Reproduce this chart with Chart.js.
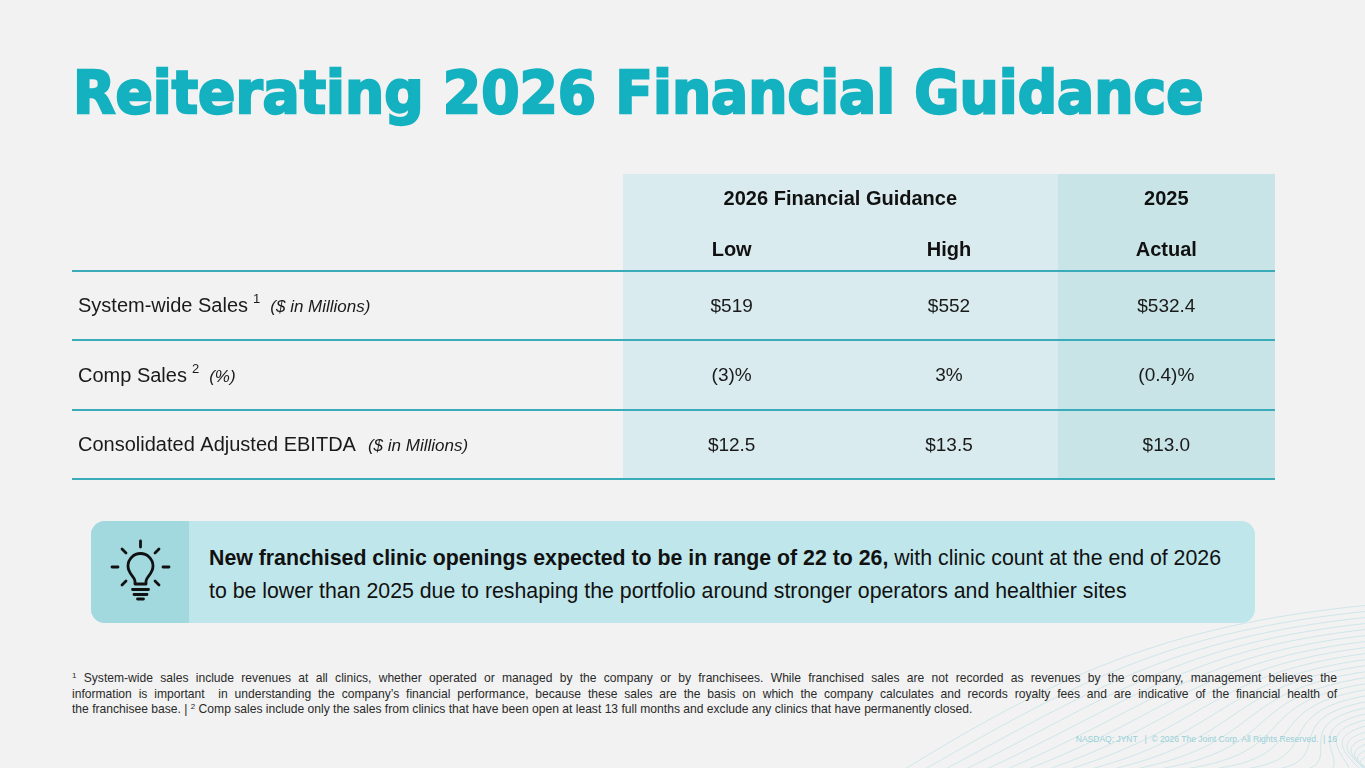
<!DOCTYPE html>
<html>
<head>
<meta charset="utf-8">
<title>Reiterating 2026 Financial Guidance</title>
<script src="https://cdn.jsdelivr.net/npm/chart.js@4.4.1/dist/chart.umd.min.js"></script>
<style>
  html, body { margin: 0; padding: 0; }
  body {
    width: 1365px; height: 768px; position: relative; overflow: hidden;
    background: #f2f2f2; color: #1a1a1a;
    font-family: "Liberation Sans", Arial, sans-serif;
  }
  #waves { position: absolute; left: 0; top: 0; }
  #title {
    position: absolute; left: 73px; top: 63px; white-space: nowrap;
    font-family: "Arial Black", "DejaVu Sans", sans-serif;
    font-weight: bold; font-size: 59px; line-height: 59px; color: #14b1c0;
    -webkit-text-stroke: 2.4px #14b1c0; transform-origin: left center; width: max-content;
  }
  #tableBox { position: absolute; left: 72px; top: 172px; width: 1203px; height: 310px; }
  #callout {
    position: absolute; left: 91px; top: 521px; width: 1164px; height: 102px;
    background: #bfe6ea; border-radius: 14px;
  }
  #callout .icon {
    position: absolute; left: 0; top: 0; width: 98px; height: 102px;
    background: #a2d9df; border-radius: 14px 0 0 14px;
  }
  #callout .msg {
    position: absolute; left: 118px; top: 21px; white-space: nowrap;
    font-size: 21.3px; line-height: 33px; color: #111;
  }
  #notes {
    position: absolute; left: 72px; top: 671px; font-size: 12.3px; line-height: 15.5px; color: #2a2a2a;
  }
  #notes div { white-space: nowrap; width: max-content; }
  #notes div.full { width: 1265px; text-align: justify; text-align-last: justify; white-space: normal; }
  #notes sup { font-size: 8px; vertical-align: 4px; line-height: 0; }
  #footer {
    position: absolute; right: 28px; top: 734px; white-space: nowrap;
    font-size: 8.5px; color: #95d0d7;
  }
</style>
</head>
<body>
<svg id="waves" width="1365" height="768"></svg>

<div id="title">Reiterating 2026 Financial Guidance</div>

<div id="tableBox"><canvas id="myChart"></canvas></div>

<div id="callout">
  <div class="icon">
    <svg width="98" height="102" viewBox="0 0 98 102" fill="none" stroke="#111" stroke-width="2.8" stroke-linecap="round" stroke-linejoin="round">
      <path d="M44,63 L44,60 C44,56 37,53 37,45 A12.5,12.5 0 1 1 62,45 C62,53 55,56 55,60 L55,63 Z"/>
      <path d="M41.5,68.5 H57.5 M43,73.5 H56 M46.5,78 H52.5"/>
      <path d="M49.5,20 V26 M21,46 H27 M72,46 H78 M31,28 L35,32 M68,28 L64,32 M31,64 L35,60 M68,64 L64,60"/>
    </svg>
  </div>
  <div class="msg"><b>New franchised clinic openings expected to be in range of 22 to 26,</b> with clinic count at the end of 2026<br>to be lower than 2025 due to reshaping the portfolio around stronger operators and healthier sites</div>
</div>

<div id="notes">
  <div class="full"><sup>1</sup> System-wide sales include revenues at all clinics, whether operated or managed by the company or by franchisees. While franchised sales are not recorded as revenues by the company, management believes the</div>
  <div class="full">information is important &nbsp;in understanding the company’s financial performance, because these sales are the basis on which the company calculates and records royalty fees and are indicative of the financial health of</div>
  <div id="lastNote">the franchisee base. | <sup>2</sup> Comp sales include only the sales from clinics that have been open at least 13 full months and exclude any clinics that have permanently closed.</div>
</div>

<div id="footer">NASDAQ: JYNT &nbsp; | &nbsp;© 2026 The Joint Corp. All Rights Reserved. &nbsp;| 16</div>

<script>
// table content
const columns = ["Low", "High", "Actual"];
const groupHeaders = ["2026 Financial Guidance", "2025"];
const rowLabels = ["System-wide Sales", "Comp Sales", "Consolidated Adjusted EBITDA"];
const rowNotes = ["1", "2", ""];
const rowUnits = ["($ in Millions)", "(%)", "($ in Millions)"];
const lowGuidance = ["$519", "(3)%", "$12.5"];
const highGuidance = ["$552", "3%", "$13.5"];
const actual2025 = ["$532.4", "(0.4)%", "$13.0"];
const columnValues = [lowGuidance, highGuidance, actual2025];

// squeeze the heavy title to the slide width
const title = document.getElementById("title");
title.style.transform = "scaleX(" + (1131 / title.scrollWidth).toFixed(4) + ")";

// footnote size taken from the unjustified last line; the first two are justified
const notes = document.getElementById("notes");
const lastNote = document.getElementById("lastNote");
notes.style.fontSize = (12.3 * 900 / lastNote.scrollWidth).toFixed(2) + "px";

// faint waves, bottom right
const waves = document.getElementById("waves");
for (let i = 0; i < 26; i++) {
  const p = document.createElementNS("http://www.w3.org/2000/svg", "path");
  const x0 = 900 + i * 20, y1 = 630 + i * 6;
  p.setAttribute("d", `M${x0},772 C${x0 + 150},${y1 + 50} ${1160 + i * 6},${y1 - 5} 1370,${y1 - 25}`);
  p.setAttribute("stroke", "#cfe6ea");
  p.setAttribute("stroke-width", "1");
  p.setAttribute("fill", "none");
  waves.appendChild(p);
}

const FONT = '"Liberation Sans", Arial, sans-serif';

const tablePlugin = {
  id: "tableCells",
  beforeDatasetsDraw(chart) {
    const { ctx, chartArea, scales: { x } } = chart;
    const colW = (chartArea.right - chartArea.left) / columns.length;
    ctx.save();
    columns.forEach((c, j) => {
      const cx = x.getPixelForValue(j);
      ctx.fillStyle = j === 2 ? "#c8e4e7" : "#d9ebee";
      ctx.fillRect(Math.round(cx - colW / 2), 2, Math.round(colW) + 1, chartArea.bottom - 2);
    });
    ctx.restore();
  },
  afterDatasetsDraw(chart) {
    const { ctx, chartArea, scales: { x, y } } = chart;
    const rowH = (chartArea.bottom - chartArea.top) / rowLabels.length;

    ctx.save();
    // rules
    ctx.strokeStyle = "#3aabb8";
    ctx.lineWidth = 2;
    for (let k = 0; k <= rowLabels.length; k++) {
      const yy = Math.round(chartArea.top + k * rowH);
      ctx.beginPath();
      ctx.moveTo(0, yy);
      ctx.lineTo(chartArea.right, yy);
      ctx.stroke();
    }

    ctx.fillStyle = "#111";
    ctx.textBaseline = "middle";
    ctx.textAlign = "center";

    // headers
    ctx.font = "bold 20px " + FONT;
    const groupY = chartArea.top - 72;
    const subY = chartArea.top - 21;
    ctx.fillText(groupHeaders[0], (x.getPixelForValue(0) + x.getPixelForValue(1)) / 2, groupY);
    ctx.fillText(groupHeaders[1], x.getPixelForValue(2), groupY);
    columns.forEach((c, j) => ctx.fillText(c, x.getPixelForValue(j), subY));

    // values
    ctx.font = "19px " + FONT;
    ctx.fillStyle = "#1a1a1a";
    columnValues.forEach((vals, j) => {
      vals.forEach((v, i) => ctx.fillText(v, x.getPixelForValue(j), y.getPixelForValue(i) + 1));
    });

    // row labels
    ctx.textAlign = "left";
    rowLabels.forEach((label, i) => {
      const yy = y.getPixelForValue(i) + 1;
      let xx = 6;
      ctx.font = "20px " + FONT;
      ctx.fillText(label, xx, yy);
      xx += ctx.measureText(label).width;
      if (rowNotes[i]) {
        ctx.font = "13px " + FONT;
        ctx.fillText(rowNotes[i], xx + 5, yy - 7);
        xx += 5 + ctx.measureText(rowNotes[i]).width + 10;
      } else {
        xx += 12;
      }
      ctx.font = "italic 17px " + FONT;
      ctx.fillText(rowUnits[i], xx, yy + 1);
    });
    ctx.restore();
  }
};

// one invisible point per cell, so each cell sits on the category scales
const cells = [];
columns.forEach(c => rowLabels.forEach(r => cells.push({ x: c, y: r })));

const canvas = document.getElementById("myChart");
new Chart(canvas.getContext("2d"), {
  type: "scatter",
  data: {
    datasets: [{ data: cells, pointRadius: 0, pointHoverRadius: 0 }]
  },
  options: {
    responsive: true,
    maintainAspectRatio: false,
    animation: false,
    events: [],
    layout: { padding: { left: 551, top: 99, right: 0, bottom: 3 } },
    plugins: { legend: { display: false }, tooltip: { enabled: false } },
    scales: {
      x: { type: "category", labels: columns, offset: true, display: false },
      y: { type: "category", labels: rowLabels, offset: true, display: false }
    }
  },
  plugins: [tablePlugin]
});
</script>
</body>
</html>
